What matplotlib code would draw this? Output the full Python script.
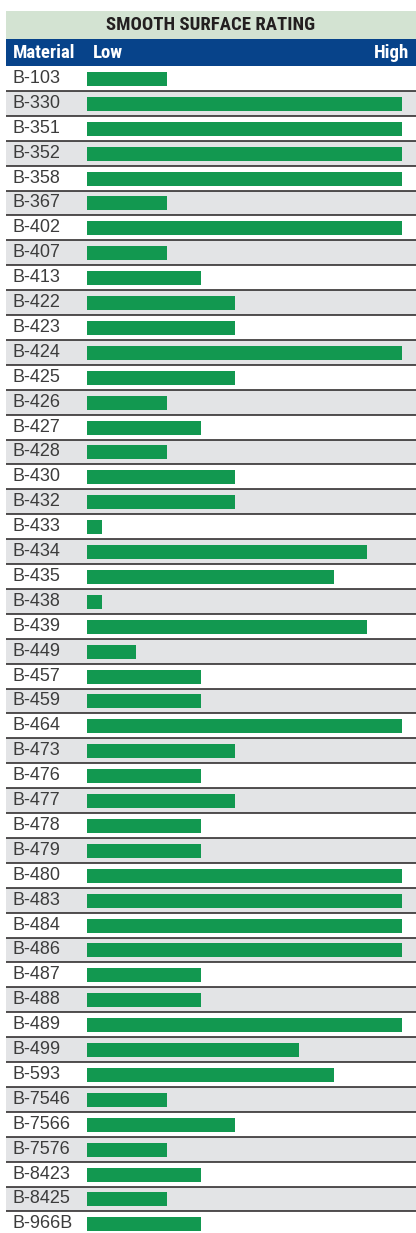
import matplotlib
matplotlib.use("Agg")
import matplotlib.pyplot as plt
from matplotlib.patches import Rectangle
from matplotlib import font_manager as fm

materials = ["B-103", "B-330", "B-351", "B-352", "B-358", "B-367", "B-402", "B-407",
             "B-413", "B-422", "B-423", "B-424", "B-425", "B-426", "B-427", "B-428",
             "B-430", "B-432", "B-433", "B-434", "B-435", "B-438", "B-439", "B-449",
             "B-457", "B-459", "B-464", "B-473", "B-476", "B-477", "B-478", "B-479",
             "B-480", "B-483", "B-484", "B-486", "B-487", "B-488", "B-489", "B-499",
             "B-593", "B-7546", "B-7566", "B-7576", "B-8423", "B-8425", "B-966B"]
ratings = [2.4, 9.5, 9.5, 9.5, 9.5, 2.4, 9.5, 2.4,
           3.45, 4.45, 4.45, 9.5, 4.45, 2.4, 3.45, 2.4,
           4.45, 4.45, 0.45, 8.45, 7.45, 0.45, 8.45, 1.48,
           3.45, 3.45, 9.5, 4.45, 3.45, 4.45, 3.45, 3.45,
           9.5, 9.5, 9.5, 9.5, 3.45, 3.45, 9.5, 6.4,
           7.45, 2.4, 4.45, 2.4, 3.45, 2.4, 3.45]
title = "SMOOTH SURFACE RATING"
col_label = "Material"
low_label = "Low"
high_label = "High"

W, H = 416, 1233
fig = plt.figure(figsize=(W / 100, H / 100), dpi=100)

left_px, right_px = 6, 416
title_top, title_bot = 11, 39
head_bot = 66
row_h = 24.9
n = len(materials)
body_bot = head_bot + n * row_h
bar_x0 = 87
unit = 315 / 9.5

def fy(py):
    return 1 - py / H

def fx(px):
    return px / W

GREEN_BAND = "#d3e3d2"
BLUE = "#07438a"
GRAY = "#e3e4e6"
BAR = "#129850"
LINE = "#231f20"
TXT = "#3c3c3c"

available = {f.name for f in fm.fontManager.ttflist}
head_font = [f for f in ["Roboto Condensed", "Liberation Sans Narrow", "DejaVu Sans"] if f in available]
head_kw = dict(fontweight="bold", family=head_font, fontstretch="condensed")

fig.patches.append(Rectangle((fx(left_px), fy(title_bot)), fx(right_px) - fx(left_px),
                             fy(title_top) - fy(title_bot), transform=fig.transFigure,
                             facecolor=GREEN_BAND, edgecolor="none"))
fig.text(fx(211), fy((title_top + title_bot) / 2 + 0.5), title, ha="center", va="center",
         fontsize=13.5, color="#231f20", **head_kw)
fig.patches.append(Rectangle((fx(left_px), fy(head_bot)), fx(right_px) - fx(left_px),
                             fy(title_bot) - fy(head_bot), transform=fig.transFigure,
                             facecolor=BLUE, edgecolor="none"))
hy = fy((title_bot + head_bot) / 2 + 0.5)
fig.text(fx(13), hy, col_label, ha="left", va="center", fontsize=13.5, color="white", **head_kw)
fig.text(fx(93), hy, low_label, ha="left", va="center", fontsize=13.5, color="white", **head_kw)
fig.text(fx(409), hy, high_label, ha="right", va="center", fontsize=13.5, color="white", **head_kw)

ax = fig.add_axes([fx(left_px), fy(body_bot), fx(right_px) - fx(left_px),
                   fy(head_bot) - fy(body_bot)])
xmin = (left_px - bar_x0) / unit
xmax = (right_px - bar_x0) / unit
ax.set_xlim(xmin, xmax)
ax.set_ylim(n, 0)
ax.axis("off")

for i in range(n):
    if i % 2 == 1:
        ax.axhspan(i, i + 1, color=GRAY, lw=0, zorder=0)
for i in range(1, n + 1):
    ax.axhline(i, color=LINE, lw=1.1, zorder=3)

ys = [i + 0.52 for i in range(n)]
ax.barh(ys, ratings, height=0.56, left=0, color=BAR, zorder=2)

for i, m in enumerate(materials):
    ax.text((13 - left_px) / (right_px - left_px), i + 0.5, m, transform=ax.get_yaxis_transform(),
            ha="left", va="center", fontsize=13, color=TXT, family=["Liberation Sans", "DejaVu Sans"])

fig.savefig("out.png", dpi=100)
